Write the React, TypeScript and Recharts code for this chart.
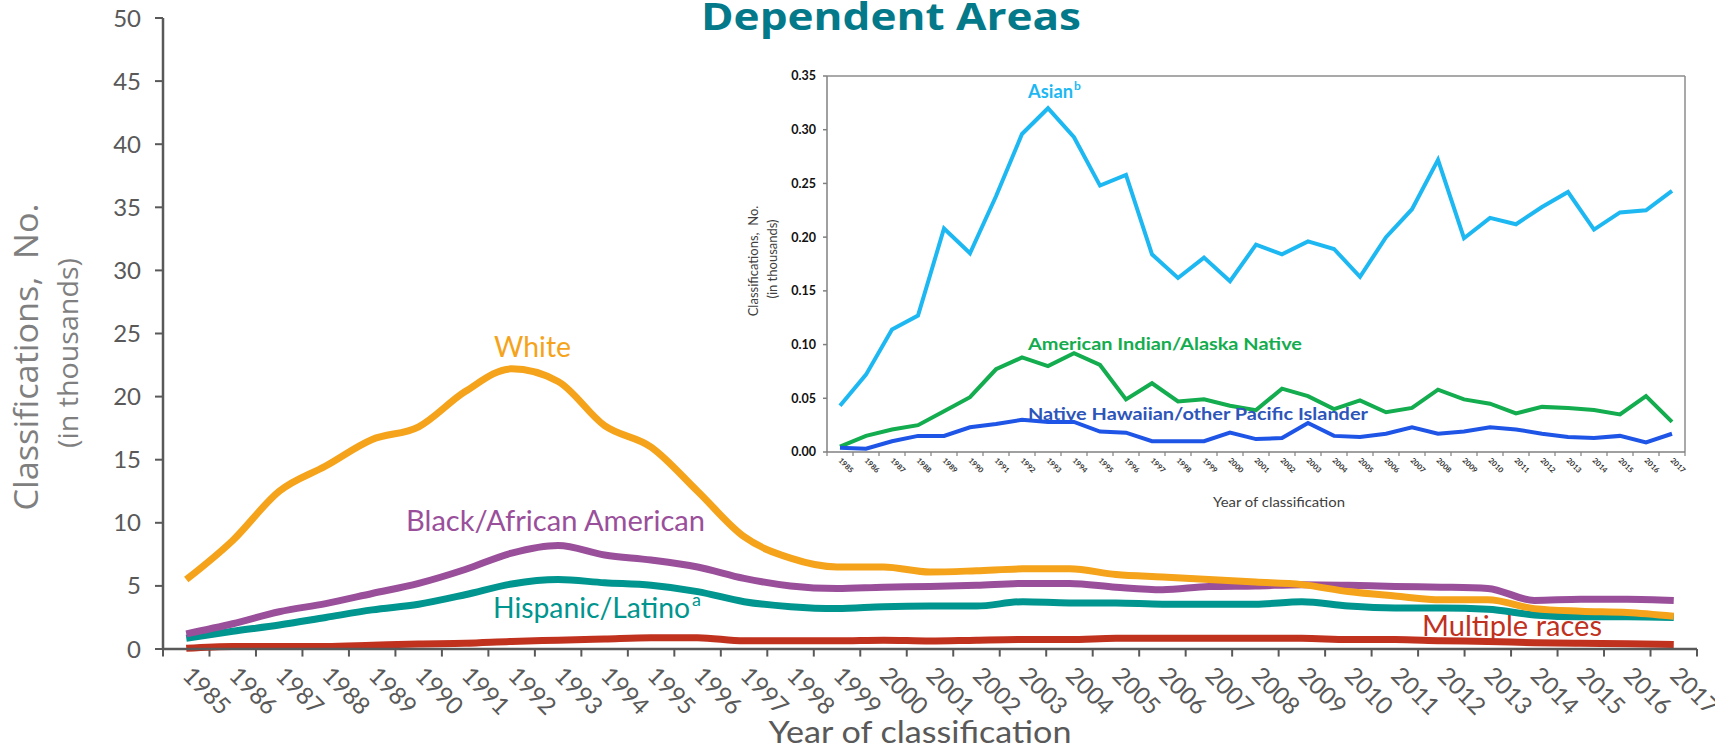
import React from 'react';
import { LineChart, Line, XAxis, YAxis, ReferenceLine } from 'recharts';

const YEARS = [
  1985, 1986, 1987, 1988, 1989, 1990, 1991, 1992, 1993, 1994, 1995,
  1996, 1997, 1998, 1999, 2000, 2001, 2002, 2003, 2004, 2005, 2006,
  2007, 2008, 2009, 2010, 2011, 2012, 2013, 2014, 2015, 2016, 2017,
];

// main chart, in thousands
const WHITE = [
  5.5, 8.6, 12.5, 14.5, 16.6, 17.6, 20.4, 22.2, 21.2, 17.7, 16.0,
  12.5, 8.9, 7.2, 6.5, 6.5, 6.1, 6.2, 6.35, 6.35, 5.9, 5.7,
  5.5, 5.3, 5.1, 4.55, 4.2, 3.9, 3.9, 3.2, 3.0, 2.9, 2.6,
];
const BLACK = [
  1.2, 2.0, 2.95, 3.6, 4.4, 5.2, 6.3, 7.6, 8.2, 7.45, 7.05,
  6.5, 5.6, 5.0, 4.8, 4.9, 4.95, 5.05, 5.2, 5.2, 4.9, 4.7,
  4.95, 5.0, 5.1, 5.05, 4.95, 4.9, 4.8, 3.85, 3.95, 3.95, 3.85,
];
const HISPANIC = [
  0.85, 1.4, 1.9, 2.5, 3.1, 3.55, 4.3, 5.15, 5.5, 5.25, 5.05,
  4.55, 3.75, 3.35, 3.2, 3.35, 3.4, 3.4, 3.75, 3.65, 3.65, 3.55,
  3.55, 3.55, 3.75, 3.4, 3.25, 3.25, 3.15, 2.7, 2.55, 2.55, 2.5,
];
const MULTIPLE = [
  0.05, 0.2, 0.2, 0.2, 0.3, 0.4, 0.45, 0.6, 0.7, 0.8, 0.9,
  0.9, 0.65, 0.65, 0.65, 0.7, 0.63, 0.7, 0.75, 0.75, 0.85, 0.85,
  0.85, 0.85, 0.85, 0.75, 0.75, 0.65, 0.6, 0.5, 0.45, 0.42, 0.35,
];

// inset chart, in thousands
const ASIAN = [
  0.043, 0.072, 0.114, 0.127, 0.208, 0.185, 0.238, 0.296, 0.32, 0.293, 0.248,
  0.258, 0.184, 0.162, 0.181, 0.159, 0.193, 0.184, 0.196, 0.189, 0.163, 0.2,
  0.226, 0.272, 0.199, 0.218, 0.212, 0.228, 0.242, 0.207, 0.223, 0.225, 0.243,
];
const AIAN = [
  0.005, 0.015, 0.021, 0.025, 0.038, 0.051, 0.077, 0.088, 0.08, 0.092, 0.081,
  0.049, 0.064, 0.047, 0.049, 0.043, 0.039, 0.059, 0.052, 0.04, 0.048, 0.037,
  0.041, 0.058, 0.049, 0.045, 0.036, 0.042, 0.041, 0.039, 0.035, 0.052, 0.028,
];
const NHOPI = [
  0.004, 0.003, 0.01, 0.015, 0.015, 0.023, 0.026, 0.03, 0.028, 0.028, 0.019,
  0.018, 0.01, 0.01, 0.01, 0.018, 0.012, 0.013, 0.027, 0.015, 0.014, 0.017,
  0.023, 0.017, 0.019, 0.023, 0.021, 0.017, 0.014, 0.013, 0.015, 0.009, 0.017,
];

const MAIN_Y_TICKS = [0, 5, 10, 15, 20, 25, 30, 35, 40, 45, 50];
const INSET_Y_TICKS = [0, 0.05, 0.1, 0.15, 0.2, 0.25, 0.3, 0.35];

const mainData = YEARS.map((year, i) => ({
  year,
  white: WHITE[i],
  black: BLACK[i],
  hispanic: HISPANIC[i],
  multiple: MULTIPLE[i],
}));

const insetData = YEARS.map((year, i) => ({
  year,
  asian: ASIAN[i],
  aian: AIAN[i],
  nhopi: NHOPI[i],
}));

// category boundaries, where the tick marks sit
const BOUNDS = [...YEARS.map((y) => y - 0.5), YEARS[YEARS.length - 1] + 0.5];
const X_DOMAIN = [BOUNDS[0], BOUNDS[BOUNDS.length - 1]];

const AXIS_GRAY = '#595959';

const MainXTick = ({ x, y, payload }: any) => (
  <text
    transform={`translate(${x - 5},${y + 28}) rotate(45)`}
    fill={AXIS_GRAY}
    fontSize={24}
    fontFamily="Lato"
  >
    {payload.value}
  </text>
);

const InsetXTick = ({ x, y, payload }: any) => (
  <text
    transform={`translate(${x - 2},${y + 9}) rotate(45)`}
    fill="#333"
    fontSize={7.5}
    fontWeight={700}
    fontFamily="Lato"
  >
    {payload.value}
  </text>
);

const layer: React.CSSProperties = { position: 'absolute', left: 0, top: 0 };

export default function App() {
  return (
    <div style={{ position: 'absolute', left: 0, top: 0, width: 1715, height: 750, background: '#fff' }}>
      <div style={layer}>
        <LineChart width={1715} height={750} data={mainData} margin={{ top: 18, right: 18, bottom: 0, left: 0 }}>
          <XAxis
            dataKey="year"
            type="number"
            domain={X_DOMAIN}
            ticks={YEARS}
            interval={0}
            height={101}
            axisLine={{ stroke: AXIS_GRAY, strokeWidth: 2.5 }}
            tickLine={false}
            tickSize={0}
            tickMargin={0}
            tick={<MainXTick />}
          />
          <YAxis
            domain={[0, 50]}
            ticks={MAIN_Y_TICKS}
            interval={0}
            width={163}
            axisLine={{ stroke: AXIS_GRAY, strokeWidth: 2.5 }}
            tickLine={{ stroke: AXIS_GRAY, strokeWidth: 2 }}
            tickSize={8}
            tickMargin={14}
            tick={{ fill: AXIS_GRAY, fontSize: 24, fontFamily: 'Lato' }}
          />
          {BOUNDS.map((b) => (
            <ReferenceLine
              key={b}
              segment={[{ x: b, y: 0 }, { x: b, y: -0.6 }]}
              stroke={AXIS_GRAY}
              strokeWidth={2}
              ifOverflow="visible"
            />
          ))}
          <Line type="monotone" dataKey="multiple" stroke="#C0311E" strokeWidth={7} dot={false} isAnimationActive={false} />
          <Line type="monotone" dataKey="hispanic" stroke="#00958E" strokeWidth={7} dot={false} isAnimationActive={false} />
          <Line type="monotone" dataKey="black" stroke="#9A4F9B" strokeWidth={7} dot={false} isAnimationActive={false} />
          <Line type="monotone" dataKey="white" stroke="#F5A31A" strokeWidth={7} dot={false} isAnimationActive={false} />
        </LineChart>
      </div>

      <div style={layer}>
        <LineChart width={1715} height={750} data={insetData} margin={{ top: 76, right: 30, bottom: 0, left: 767 }}>
          <XAxis
            dataKey="year"
            type="number"
            domain={X_DOMAIN}
            ticks={YEARS}
            interval={0}
            height={298}
            axisLine={{ stroke: '#808080', strokeWidth: 1.5 }}
            tickLine={false}
            tickSize={0}
            tickMargin={0}
            tick={<InsetXTick />}
          />
          <YAxis
            domain={[0, 0.35]}
            ticks={INSET_Y_TICKS}
            interval={0}
            width={60}
            axisLine={{ stroke: '#808080', strokeWidth: 1.5 }}
            tickLine={{ stroke: '#808080', strokeWidth: 1.5 }}
            tickSize={4}
            tickMargin={7}
            tickFormatter={(v: number) => v.toFixed(2)}
            tick={{ fill: '#111', fontSize: 12.5, fontWeight: 700, fontFamily: 'Lato' }}
          />
          <ReferenceLine y={0.35} stroke="#8c8c8c" strokeWidth={1.5} />
          <ReferenceLine x={X_DOMAIN[1]} stroke="#8c8c8c" strokeWidth={1.5} />
          {BOUNDS.map((b) => (
            <ReferenceLine
              key={b}
              segment={[{ x: b, y: 0 }, { x: b, y: -0.0038 }]}
              stroke="#808080"
              strokeWidth={1.2}
              ifOverflow="visible"
            />
          ))}
          <Line type="linear" dataKey="aian" stroke="#13AC4E" strokeWidth={4} dot={false} isAnimationActive={false} />
          <Line type="linear" dataKey="nhopi" stroke="#1F55E6" strokeWidth={4} dot={false} isAnimationActive={false} />
          <Line type="linear" dataKey="asian" stroke="#1DB8F2" strokeWidth={4} dot={false} isAnimationActive={false} />
        </LineChart>
      </div>

      <svg width={1715} height={750} style={{ ...layer, pointerEvents: 'none' }}>
        <text x={891} y={30} textAnchor="middle" fontFamily="Open Sans" fontWeight={700} fontSize={38}
          fill="#03798A" textLength={380} lengthAdjust="spacingAndGlyphs">Dependent Areas</text>

        {/* main axis titles */}
        <text transform="translate(38,357) rotate(-90)" textAnchor="middle" fontFamily="Open Sans"
          fontSize={33} fill="#7f7f7f" textLength={307} lengthAdjust="spacingAndGlyphs"
          style={{ whiteSpace: 'pre' }}>Classifications,  No.</text>
        <text transform="translate(78,353) rotate(-90)" textAnchor="middle" fontFamily="Open Sans"
          fontSize={28} fill="#7f7f7f" textLength={190} lengthAdjust="spacingAndGlyphs">(in thousands)</text>
        <text x={920} y={743} textAnchor="middle" fontFamily="Lato" fontSize={30} fill={AXIS_GRAY}
          textLength={303} lengthAdjust="spacingAndGlyphs">Year of classification</text>

        {/* main series labels */}
        <text x={494} y={357} fontFamily="Lato" fontSize={29} fill="#F5A31A" textLength={77}
          lengthAdjust="spacingAndGlyphs">White</text>
        <text x={406} y={531} fontFamily="Lato" fontSize={29} fill="#9A4F9B" textLength={299}
          lengthAdjust="spacingAndGlyphs">Black/African American</text>
        <text x={493} y={618} fontFamily="Lato" fontSize={29} fill="#00958E" textLength={197}
          lengthAdjust="spacingAndGlyphs">Hispanic/Latino</text>
        <text x={692} y={606} fontFamily="Lato" fontSize={18} fill="#00958E">a</text>
        <text x={1422} y={636} fontFamily="Lato" fontSize={29} fill="#C0311E" textLength={180}
          lengthAdjust="spacingAndGlyphs">Multiple races</text>

        {/* inset axis titles */}
        <text transform="translate(758,261) rotate(-90)" textAnchor="middle" fontFamily="Lato"
          fontSize={13} fill="#404040" style={{ whiteSpace: 'pre' }}>Classifications,  No.</text>
        <text transform="translate(777,259) rotate(-90)" textAnchor="middle" fontFamily="Lato"
          fontSize={13} fill="#404040">(in thousands)</text>
        <text x={1279} y={507} textAnchor="middle" fontFamily="Lato" fontSize={14} fill="#404040"
          textLength={132} lengthAdjust="spacingAndGlyphs">Year of classification</text>

        {/* inset series labels */}
        <text x={1028} y={98} fontFamily="Lato" fontWeight={700} fontSize={18} fill="#1DB8F2"
          textLength={45} lengthAdjust="spacingAndGlyphs">Asian</text>
        <text x={1074} y={90} fontFamily="Lato" fontWeight={700} fontSize={12} fill="#1DB8F2">b</text>
        <text x={1028} y={350} fontFamily="Lato" fontWeight={700} fontSize={17} fill="#13AC4E"
          textLength={274} lengthAdjust="spacingAndGlyphs">American Indian/Alaska Native</text>
        <text x={1028} y={420} fontFamily="Lato" fontWeight={700} fontSize={17} fill="#2D55BA"
          textLength={340} lengthAdjust="spacingAndGlyphs">Native Hawaiian/other Pacific Islander</text>
      </svg>
    </div>
  );
}
